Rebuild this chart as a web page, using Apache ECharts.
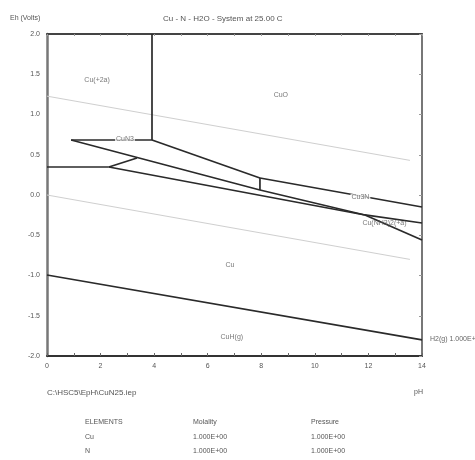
<!DOCTYPE html>
<html>
<head>
<meta charset="utf-8">
<script src="https://cdn.jsdelivr.net/npm/echarts@6/dist/echarts.min.js"></script>
<style>
html,body{margin:0;padding:0;background:#fff;}
#c{width:475px;height:460px;}
</style>
</head>
<body>
<div id="c"></div>
<script>
// ---- data (pH, Eh in volts) ----
const titleText = 'Cu - N - H2O - System at 25.00 C';
const yAxisName = 'Eh (Volts)';
const xAxisName = 'pH';
const fileName = 'C:\\HSC5\\EpH\\CuN25.iep';

const waterUpper = [[0, 1.228], [13.55, 0.43]];
const waterLower = [[0, 0.0], [13.55, -0.80]];

const bCuOVert = [[3.92, 2.0], [3.92, 0.683]];
const bCuN3Top = [[0.90, 0.683], [3.92, 0.683]];
const bCuOCuN3 = [[3.92, 0.683], [7.95, 0.211]];
const bCu3NTop = [[7.95, 0.211], [14, -0.149]];
const bVert8 = [[7.95, 0.211], [7.95, 0.062]];
const bLine2 = [[0.90, 0.683], [7.95, 0.062], [11.87, -0.248]];
const bHoriz = [[0, 0.348], [2.31, 0.348]];
const bShort = [[2.31, 0.348], [3.36, 0.460]];
const bLine3 = [[2.31, 0.348], [11.87, -0.248]];
const bComplexUp = [[11.87, -0.248], [14, -0.348]];
const bComplexLow = [[11.87, -0.248], [14, -0.559]];
const bHydride = [[0, -0.994], [14, -1.80]];

// [pH, Eh, text, sitsOnLine]
const regionLabels = [
  [1.87, 1.43, 'Cu(+2a)', 0],
  [8.73, 1.24, 'CuO', 0],
  [2.91, 0.70, 'CuN3', 1],
  [11.7, -0.03, 'Cu3N', 1],
  [12.6, -0.35, 'Cu(NH3)2(+a)', 0],
  [6.83, -0.87, 'Cu', 0],
  [6.9, -1.76, 'CuH(g)', 0]
];

const elemHeader = ['ELEMENTS', 'Molality', 'Pressure'];
const elemRows = [
  ['Cu', '1.000E+00', '1.000E+00'],
  ['N', '1.000E+00', '1.000E+00']
];
const sideNote = 'H2(g) 1.000E+00';

// ---- chart ----
const chart = echarts.init(document.getElementById('c'), null, {renderer: 'canvas'});
const FONT = 'Liberation Sans';
const boundaryStyle = {color: '#2a2a2a', width: 1.7};
function boundary(data) {
  return {type: 'line', data: data, symbol: 'none', silent: true, animation: false,
          lineStyle: boundaryStyle, z: 3, xAxisIndex: 0, yAxisIndex: 0};
}
function water(data) {
  return {type: 'line', data: data, symbol: 'none', silent: true, animation: false,
          lineStyle: {color: '#cfcfcf', width: 1}, z: 2, xAxisIndex: 0, yAxisIndex: 0};
}

const graphics = [
  {type: 'text', left: 10, top: 15, style: {text: yAxisName, font: '7px ' + FONT, fill: '#555'}},
  {type: 'text', left: 163, top: 15, style: {text: titleText, font: '8px ' + FONT, fill: '#555'}},
  {type: 'text', left: 47, top: 389, style: {text: fileName, font: '8px ' + FONT, fill: '#555'}},
  {type: 'text', left: 414, top: 389, style: {text: xAxisName, font: '7px ' + FONT, fill: '#555'}},
  {type: 'text', left: 430, top: 336, style: {text: sideNote, font: '7px ' + FONT, fill: '#666'}}
];
const colX = [85, 193, 311];
const rowY = [419, 434, 448];
elemHeader.forEach((t, i) => graphics.push({type: 'text', left: colX[i], top: rowY[0],
  style: {text: t, font: '7px ' + FONT, fill: '#555'}}));
elemRows.forEach((r, j) => r.forEach((t, i) => graphics.push({type: 'text', left: colX[i], top: rowY[j + 1],
  style: {text: t, font: '7px ' + FONT, fill: '#555'}})));

const labelData = regionLabels.map(d => ({
  value: [d[0], d[1]],
  name: d[2],
  label: d[3] ? {backgroundColor: '#fff', padding: [0, 1]} : {}
}));

chart.setOption({
  animation: false,
  backgroundColor: '#fff',
  grid: {left: 47, right: 53, top: 34, bottom: 104},
  xAxis: [
    {type: 'value', min: 0, max: 14, interval: 2, position: 'bottom',
     axisLine: {show: true, onZero: false, lineStyle: {color: '#333', width: 2}},
     axisTick: {show: true, inside: true, length: 3, lineStyle: {color: '#666'}},
     minorTick: {show: true, splitNumber: 2, length: 3, lineStyle: {color: '#666'}},
     axisLabel: {fontSize: 7, color: '#555', fontFamily: FONT, margin: 7},
     splitLine: {show: false}},
    {type: 'value', min: 0, max: 14, interval: 2, position: 'top',
     axisLine: {show: true, onZero: false, lineStyle: {color: '#444', width: 2}},
     axisTick: {show: true, inside: true, length: 2, lineStyle: {color: '#999'}},
     minorTick: {show: true, splitNumber: 2, length: 2, lineStyle: {color: '#999'}},
     axisLabel: {show: false}, splitLine: {show: false}}
  ],
  yAxis: [
    {type: 'value', min: -2, max: 2, interval: 0.5, position: 'left',
     axisLine: {show: true, onZero: false, lineStyle: {color: '#777', width: 2.5}},
     axisTick: {show: false},
     axisLabel: {fontSize: 7, color: '#555', fontFamily: FONT, margin: 7,
                 formatter: v => v.toFixed(1)},
     splitLine: {show: false}},
    {type: 'value', min: -2, max: 2, interval: 0.5, position: 'right',
     axisLine: {show: true, onZero: false, lineStyle: {color: '#777', width: 2}},
     axisTick: {show: true, inside: true, length: 3, lineStyle: {color: '#999'}},
     axisLabel: {show: false}, splitLine: {show: false}}
  ],
  series: [
    water(waterUpper), water(waterLower),
    boundary(bCuOVert), boundary(bCuN3Top), boundary(bCuOCuN3), boundary(bCu3NTop),
    boundary(bVert8), boundary(bLine2), boundary(bHoriz), boundary(bShort),
    boundary(bLine3), boundary(bComplexUp), boundary(bComplexLow), boundary(bHydride),
    {type: 'scatter', data: labelData, symbolSize: 2,
     itemStyle: {color: 'rgba(255,255,255,0)'},
     silent: true, animation: false, z: 5,
     label: {show: true, position: 'inside', formatter: p => p.name,
             fontSize: 7, color: '#555', fontFamily: FONT}}
  ],
  graphic: graphics
});
</script>
</body>
</html>
